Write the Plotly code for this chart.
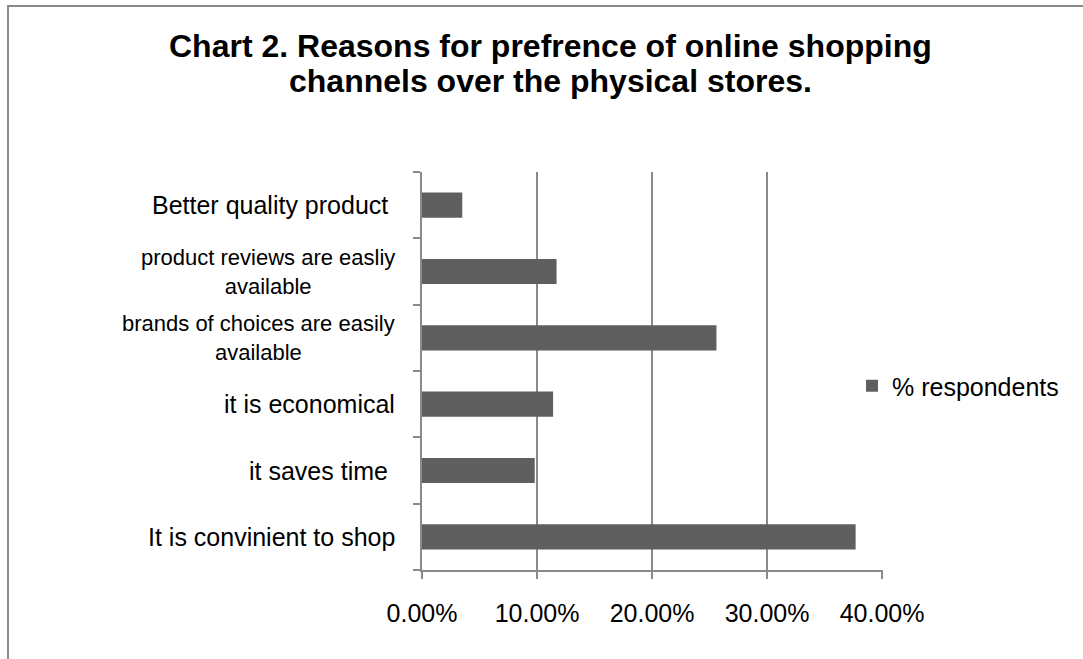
import plotly.graph_objects as go

# Data (bottom to top, as in the reference)
categories = [
    "It is convinient to shop",
    "it saves time ",
    "it is economical",
    "brands of choices are easily<br>available",
    "product reviews are easliy<br>available",
    "Better quality product ",
]
values = [0.377, 0.098, 0.114, 0.256, 0.117, 0.035]
series_name = "% respondents"
x_ticks = [0.0, 0.1, 0.2, 0.3, 0.4]
title_lines = [
    "Chart 2. Reasons for prefrence of online shopping",
    "channels over the physical stores.",
]

FONT = "Liberation Sans, Arial, sans-serif"
GRID = "#8a8a8a"
BAR = "#5f5f5f"

W, H = 1083, 659
L, R, T, B = 422, 200, 172, 89
PW, PH = W - L - R, H - T - B


def px_to_paper_x(px):
    return (px - L) / PW


def px_to_paper_y(py):
    return (H - B - py) / PH


fig = go.Figure()
fig.add_trace(go.Bar(
    y=categories, x=values, orientation="h", name=series_name,
    marker=dict(color=BAR, line=dict(width=0)),
    showlegend=True,
))

annotations = []
for cat in categories:
    size = 22 if "<br>" in cat else 25
    annotations.append(dict(
        x=0, xref="paper", y=cat, yref="y", text=cat, showarrow=False,
        xanchor="right", yanchor="middle", xshift=-25, align="center",
        font=dict(family=FONT, size=size, color="#000000"),
    ))
for txt, ypx in zip(title_lines, [46, 81]):
    annotations.append(dict(
        x=px_to_paper_x(550), xref="paper", y=px_to_paper_y(ypx), yref="paper",
        text="<b>" + txt + "</b>", showarrow=False, xanchor="center", yanchor="middle",
        font=dict(family=FONT, size=32, color="#000000"),
    ))

fig.update_layout(
    width=W, height=H,
    margin=dict(l=L, r=R, t=T, b=B, pad=0),
    paper_bgcolor="white", plot_bgcolor="white",
    bargap=0.62,
    showlegend=True,
    legend=dict(
        x=px_to_paper_x(852), xanchor="left",
        y=px_to_paper_y(386), yanchor="middle",
        font=dict(family=FONT, size=25, color="#000000"),
        bgcolor="rgba(0,0,0,0)", borderwidth=0,
        itemwidth=30,
    ),
    annotations=annotations,
    xaxis=dict(
        range=[0, 0.4008], tickvals=x_ticks, tickformat=".2%",
        showgrid=True, gridcolor=GRID, gridwidth=2,
        showline=True, linecolor=GRID, linewidth=2,
        ticks="outside", ticklen=7, tickwidth=2, tickcolor=GRID,
        tickfont=dict(family=FONT, size=25, color="#000000"),
        ticklabelstandoff=13,
        zeroline=False, fixedrange=True,
    ),
    yaxis=dict(
        categoryorder="array", categoryarray=categories,
        showticklabels=False,
        showgrid=False,
        showline=True, linecolor=GRID, linewidth=2,
        ticks="outside", ticklen=7, tickwidth=2, tickcolor=GRID,
        tickson="boundaries",
        zeroline=False, fixedrange=True,
    ),
    shapes=[
        dict(type="rect", xref="paper", yref="paper",
             x0=px_to_paper_x(8), x1=px_to_paper_x(1100),
             y0=px_to_paper_y(720), y1=px_to_paper_y(6),
             line=dict(color=GRID, width=2), fillcolor="rgba(0,0,0,0)", layer="below"),
    ],
)

fig.write_html("out.html", config={"displayModeBar": False})
